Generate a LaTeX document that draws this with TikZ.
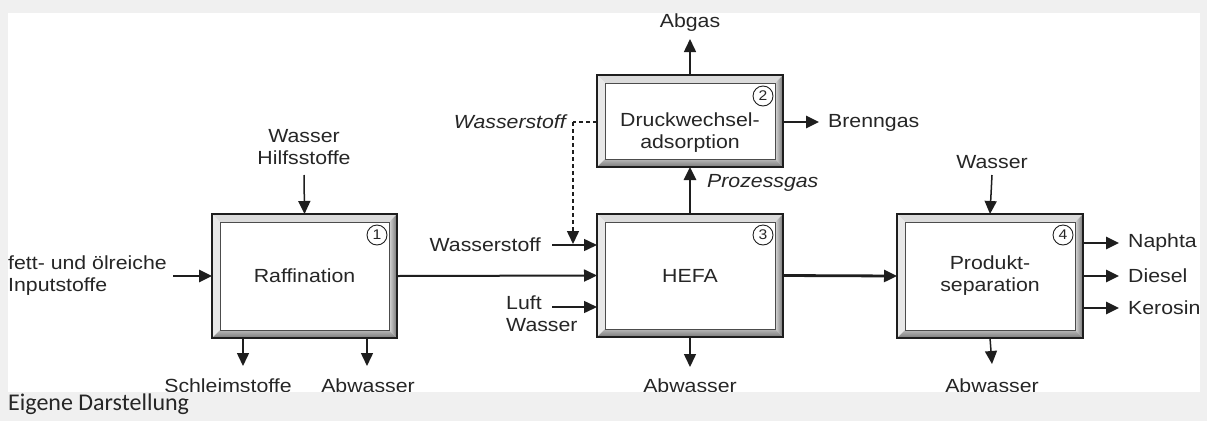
\documentclass[tikz,border=0pt]{standalone}
\usepackage{fontspec}
\setmainfont{Liberation Sans}[FakeStretch=1.12]
\newfontfamily\capfont{Carlito}
\usetikzlibrary{arrows.meta,calc}
\definecolor{bggray}{HTML}{F0F0F0}
\definecolor{ink}{HTML}{262626}
\definecolor{lineink}{HTML}{1E1E1E}
\tikzset{
  lbl/.style={text=ink,font=\fontsize{19}{22}\selectfont,inner sep=0pt,align=center},
  ilbl/.style={lbl,font=\fontsize{19}{22}\selectfont\itshape},
  procbox/.style={draw=lineink,line width=1.3pt,fill=white,lbl,outer sep=0pt},
  num/.style={circle,draw=lineink,line width=0.9pt,fill=white,minimum size=20pt,inner sep=0pt,font=\fontsize{14}{14}\selectfont,text=ink},
  flow/.style={draw=lineink,line width=1.5pt,-{Triangle[length=13pt,width=12pt]}},
  thickflow/.style={draw=lineink,line width=2.8pt,-{Triangle[length=13pt,width=12pt]}},
  midflow/.style={draw=lineink,line width=2pt,-{Triangle[length=13pt,width=12pt]}},
  dflow/.style={draw=lineink,line width=1.5pt,dash pattern=on 4pt off 3pt,-{Triangle[length=13pt,width=12pt]}},
  dline/.style={draw=lineink,line width=1.5pt,dash pattern=on 4pt off 3pt},
}
\newcommand\bevelframe[1]{%
  \fill[gray!28] (#1.north west) -- (#1.north east) -- ($(#1.north east)+(-8,8)$) -- ($(#1.north west)+(8,8)$) -- cycle;
  \fill[gray!18] (#1.north west) -- ($(#1.north west)+(8,8)$) -- ($(#1.south west)+(8,-8)$) -- (#1.south west) -- cycle;
  \shade[left color=gray!30, right color=gray!90!black] (#1.north east) -- (#1.south east) -- ($(#1.south east)+(-8,-8)$) -- ($(#1.north east)+(-8,8)$) -- cycle;
  \shade[top color=gray!55, bottom color=gray!95!black] (#1.south west) -- ($(#1.south west)+(8,-8)$) -- ($(#1.south east)+(-8,-8)$) -- (#1.south east) -- cycle;
  \draw[gray!60!black,line width=0.7pt] ($(#1.north west)+(8,8)$) rectangle ($(#1.south east)+(-8,-8)$);
  \draw[lineink,line width=1.3pt] (#1.north west) rectangle (#1.south east);
}
\begin{document}
\begin{tikzpicture}[x=1pt,y=-1pt]
\useasboundingbox (0,0) rectangle (1207,421);
\fill[bggray] (0,0) rectangle (1207,421);
\fill[white] (8,13) rectangle (1200,392);

% boxes
\node[procbox,minimum width=185pt,minimum height=124pt] (b1) at (304.5,276) {Raffination};
\bevelframe{b1}
\node[procbox,minimum width=186pt,minimum height=92pt] (b2) at (690,121) {\raisebox{-16pt}[0pt][0pt]{\parbox{170pt}{\centering Druckwechsel-\\adsorption}}};
\bevelframe{b2}
\node[procbox,minimum width=186pt,minimum height=123pt] (b3) at (690,275.5) {HEFA};
\bevelframe{b3}
\node[procbox,minimum width=186pt,minimum height=124pt] (b4) at (990,276) {Produkt-\\separation};
\bevelframe{b4}
% numbers
\node[num] (n1) at ($(b1.north east)+(-20,21)$) {1};
\node[num] (n2) at ($(b2.north east)+(-20,21)$) {2};
\node[num] (n3) at ($(b3.north east)+(-20,21)$) {3};
\node[num] (n4) at ($(b4.north east)+(-20,21)$) {4};

% Raffination
\node[lbl] (wh) at (304,147) {Wasser\\Hilfsstoffe};
\coordinate (whs) at (304,175);
\draw[flow] (whs) -- (b1.north);
\node[lbl,align=left,anchor=west] (fett) at (8,276) {fett- und ölreiche\\Inputstoffe};
\coordinate (fs) at (173,276);
\draw[thickflow] (fs) -- (b1.west);
\coordinate (s1a) at (243,338);
\coordinate (s1b) at (243,366);
\draw[flow] (s1a) -- (s1b);
\node[lbl] (schleim) at (228,386) {Schleimstoffe};
\coordinate (s2a) at (367,338);
\coordinate (s2b) at (367,366);
\draw[flow] (s2a) -- (s2b);
\node[lbl] (abw1) at (368,386) {Abwasser};

% Raffination -> HEFA
\draw[midflow] (b1.east) -- (b3.west);

% HEFA inputs
\node[lbl,anchor=east] (h2) at (541,245) {Wasserstoff};
\coordinate (h2s) at (552,245);
\coordinate (h2e) at (597,245);
\draw[flow] (h2s) -- (h2e);
\node[lbl,align=left,anchor=north west] (luft) at (506,296) {Luft\\Wasser};
\coordinate (lfs) at (552,307);
\coordinate (lfe) at (597,307);
\draw[flow] (lfs) -- (lfe);
\coordinate (a3) at (690,367);
\draw[flow] (b3.south) -- (a3);
\node[lbl] (abw3) at (690,386) {Abwasser};

% Druckwechseladsorption
\coordinate (d0) at (597,122);
\coordinate (d1) at (573,122);
\coordinate (d2) at (573,244);
\draw[dline] (d0) -- (d1);
\draw[dflow] (d1) -- (d2);
\node[ilbl,anchor=east] (h2i) at (566,122) {Wasserstoff};
\coordinate (ab) at (690,39);
\draw[flow] (b2.north) -- (ab);
\node[lbl] (abgas) at (690,23) {Abgas};
\coordinate (bg1) at (783,122);
\coordinate (bg2) at (819,122);
\draw[thickflow] (bg1) -- (bg2);
\node[lbl,anchor=west] (brenn) at (828,123) {Brenngas};
\draw[thickflow] (b3.north) -- (b2.south);
\node[ilbl,anchor=west] (proz) at (707,183) {Prozessgas};

% HEFA -> Produktseparation
\draw[thickflow] (b3.east) -- (b4.west);
\node[lbl] (w4) at (992,162) {Wasser};
\coordinate (w4s) at (992,175);
\draw[flow] (w4s) -- (b4.north);
\coordinate (a4) at (992,364);
\draw[flow] (b4.south) -- (a4);
\node[lbl] (abw4) at (992,386) {Abwasser};
\foreach \yy/\nm/\tx in {243/nap/Naphta,276/die/Diesel,308/ker/Kerosin}{
  \coordinate (\nm s) at (1083,\yy);
  \coordinate (\nm e) at (1119,\yy);
  \draw[thickflow] (\nm s) -- (\nm e);
  \node[lbl,anchor=west] (\nm) at (1128,\yy) {\tx};
}

% bottom caption band
\fill[bggray] (0,392) rectangle (1207,421);
\fill[bggray] (1200,0) rectangle (1207,421);
\node[anchor=base west,inner sep=0pt,font=\capfont\fontsize{24}{26}\selectfont,text=black!85] (cap) at (8,410) {Eigene Darstellung};
\end{tikzpicture}
\end{document}
